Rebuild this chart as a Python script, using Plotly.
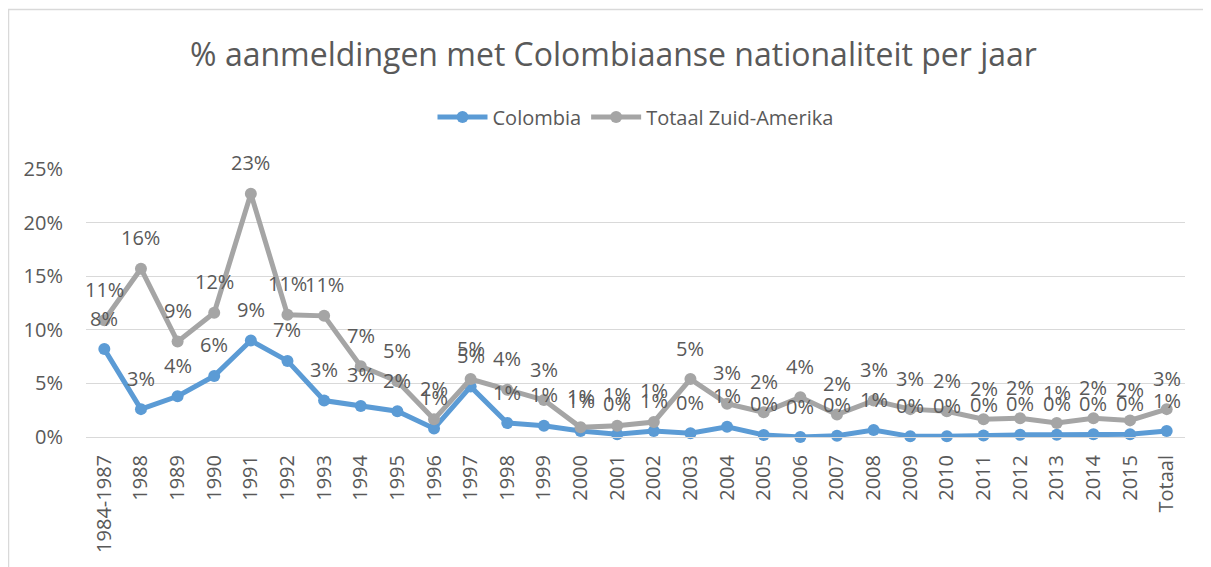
import plotly.graph_objects as go

categories = ["1984-1987"] + [str(y) for y in range(1988, 2016)] + ["Totaal"]

colombia = [0.082, 0.026, 0.038, 0.057, 0.090, 0.071, 0.034, 0.029, 0.024, 0.008,
            0.047, 0.013, 0.0105, 0.0056, 0.0025, 0.0055, 0.0035, 0.0096, 0.0019, 0.0,
            0.0012, 0.0065, 0.0006, 0.0006, 0.0015, 0.002, 0.002, 0.0025, 0.0025, 0.0055]

zuid_amerika = [0.109, 0.157, 0.089, 0.116, 0.227, 0.114, 0.113, 0.066, 0.052, 0.0165,
                0.054, 0.044, 0.0345, 0.009, 0.0105, 0.014, 0.054, 0.031, 0.023, 0.037,
                0.021, 0.034, 0.026, 0.024, 0.0165, 0.0175, 0.013, 0.0175, 0.0155, 0.026]

series_names = ["Colombia", "Totaal Zuid-Amerika"]
series_colors = ["#5B9BD5", "#A5A5A5"]
y_ticks = [0, 0.05, 0.10, 0.15, 0.20, 0.25]

FONT = "Open Sans"
TXT = "#595959"
FS = 20

W, H = 1211, 567
L, R, T, B = 78, 1177, 161, 429  # plot area in figure pixels
PW, PH = R - L, B - T

fig = go.Figure()
for name, vals, col in zip(series_names, [colombia, zuid_amerika], series_colors):
    fig.add_trace(go.Scatter(
        x=categories, y=vals, name=name, mode="lines+markers",
        line=dict(color=col, width=5),
        marker=dict(color=col, size=12),
        cliponaxis=False,
    ))

annotations = []
for vals in [zuid_amerika, colombia]:
    for i, v in enumerate(vals):
        annotations.append(dict(
            x=i, y=v, xref="x", yref="y", text=f"{round(v * 100):d}%",
            showarrow=False, yshift=31, yanchor="middle",
            font=dict(family=FONT, size=FS, color=TXT),
        ))

fig.update_layout(
    width=W, height=H,
    paper_bgcolor="white", plot_bgcolor="white",
    margin=dict(l=L, r=W - R, t=T, b=H - B),
    title=dict(text="% aanmeldingen met Colombiaanse nationaliteit per jaar",
               x=0.5, xanchor="center", y=1 - 47 / H, yanchor="middle",
               font=dict(family=FONT, size=32, color=TXT)),
    legend=dict(orientation="h", x=0.5, xanchor="center", y=1 - 109 / H,
                yref="container", yanchor="middle",
                font=dict(family=FONT, size=FS, color=TXT),
                itemwidth=50),
    showlegend=True,
    annotations=annotations,
    shapes=[dict(type="rect", xref="paper", yref="paper",
                 x0=(0.5 - L) / PW, x1=(W + 10 - L) / PW,
                 y0=-1, y1=(B - 1.5) / PH,
                 line=dict(color="#D9D9D9", width=1.5), layer="below")],
    font=dict(family=FONT, size=FS, color=TXT),
)
fig.update_xaxes(type="category", range=[-0.5, len(categories) - 0.5],
                 tickangle=-90, showgrid=False, ticks="",
                 showline=True, linecolor="#D9D9D9", linewidth=1,
                 tickfont=dict(family=FONT, size=FS, color=TXT), ticklabelstandoff=9)
fig.update_yaxes(range=[0, 0.25], tickvals=y_ticks, tickformat=".0%",
                 showgrid=True, gridcolor="#D9D9D9", gridwidth=1, zeroline=False,
                 showline=False, ticks="",
                 tickfont=dict(family=FONT, size=FS, color=TXT), ticklabelstandoff=22)

fig.write_html("out.html")
